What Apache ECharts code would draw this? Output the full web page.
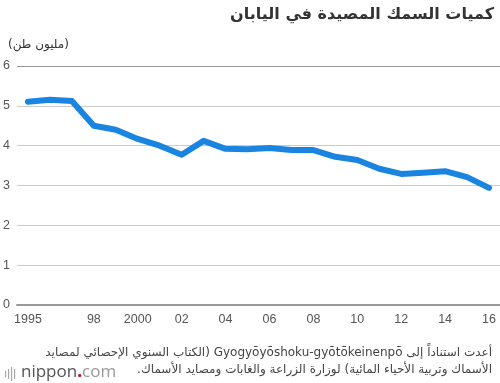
<!DOCTYPE html>
<html><head><meta charset="utf-8">
<script src="https://cdn.jsdelivr.net/npm/echarts@6/dist/echarts.min.js"></script>
<style>html,body{margin:0;padding:0;background:#fff}#c{width:500px;height:383px}</style>
</head><body>
<div id="c" dir="rtl"></div>
<script>
const years = ['1995','1996','1997','1998','1999','2000','2001','2002','2003','2004','2005','2006','2007','2008','2009','2010','2011','2012','2013','2014','2015','2016'];
const catch_mt = [5.10,5.15,5.12,4.50,4.40,4.17,4.00,3.77,4.12,3.92,3.91,3.94,3.89,3.89,3.72,3.64,3.42,3.29,3.32,3.36,3.21,2.94];
const tickLabels = {'1995':'1995','1998':'98','2000':'2000','2002':'02','2004':'04','2006':'06','2008':'08','2010':'10','2012':'12','2014':'14','2016':'16'};
const title = 'كميات السمك المصيدة في اليابان';
const unit = '(مليون طن)';
const note1 = 'أعدت استناداً إلى Gyogyōyōshoku-gyōtōkeinenpō (الكتاب السنوي الإحصائي لمصايد';
const note2 = 'الأسماك وتربية الأحياء المائية) لوزارة الزراعة والغابات ومصايد الأسماك.';

const chart = echarts.init(document.getElementById('c'), null, {renderer:'canvas'});
chart.setOption({
  animation:false,
  grid:{left:17,right:0,top:66,bottom:78,containLabel:false},
  xAxis:{type:'category',data:years,boundaryGap:true,
    axisLine:{lineStyle:{color:'#999',width:2}},axisTick:{show:false},
    axisLabel:{interval:0,color:'#555',fontSize:12.5,fontFamily:'Liberation Sans, Arial',margin:8,
      formatter:v=>tickLabels[v]||''}},
  yAxis:{type:'value',min:0,max:6,interval:1,
    axisLine:{show:false},axisTick:{show:false},
    axisLabel:{color:'#555',fontSize:12.5,fontFamily:'Liberation Sans, Arial',align:'left',margin:14},
    splitLine:{lineStyle:{color:['#ccc','#ccc','#ccc','#ccc','#ccc','#ccc','#999'],width:1}}},
  series:[{type:'line',data:catch_mt,symbol:'none',smooth:false,
    lineStyle:{color:'#1a85e0',width:6,cap:'round',join:'round'}}],
  graphic:[
    {type:'text',right:6,top:7,style:{text:title,font:'bold 16px "DejaVu Sans", sans-serif',fill:'#333'}},
    {type:'text',left:8,top:39,style:{text:unit,font:'12px "DejaVu Sans", sans-serif',fill:'#333'}},
    {type:'text',right:8,top:347,style:{text:note1,font:'12px "DejaVu Sans", sans-serif',fill:'#444'}},
    {type:'text',right:8,top:364,style:{text:note2,font:'12px "DejaVu Sans", sans-serif',fill:'#444'}},
    {type:'group',left:5,top:364,children:[
      {type:'rect',shape:{x:0,y:5,width:1.2,height:6},style:{fill:'#aaa'}},
      {type:'rect',shape:{x:3,y:3,width:1.2,height:10},style:{fill:'#aaa'}},
      {type:'rect',shape:{x:6,y:1,width:1.2,height:14},style:{fill:'#aaa'}},
      {type:'rect',shape:{x:9,y:3,width:1.2,height:10},style:{fill:'#aaa'}},
      {type:'text',x:16,y:-2,style:{text:'{a|nippon}{b|.}{c|com}',rich:{
        a:{font:'17px "Open Sans", "DejaVu Sans", sans-serif',fill:'#555'},
        b:{font:'bold 17px "Open Sans", sans-serif',fill:'#d0021b'},
        c:{font:'17px "Open Sans", sans-serif',fill:'#999'}}}}
    ]}
  ]
});
</script>
</body></html>
